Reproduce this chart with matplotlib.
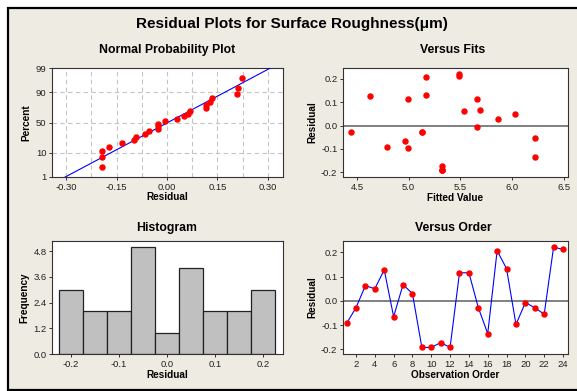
import numpy as np
import matplotlib
matplotlib.use("Agg")
import matplotlib.pyplot as plt
from matplotlib.patches import Rectangle
from statistics import NormalDist

# ---- data ----
residuals = [-0.093, -0.028, 0.063, 0.050, 0.128, -0.065, 0.067, 0.030,
             -0.192, -0.192, -0.172, -0.192, 0.116, 0.116, -0.028, -0.135,
             0.207, 0.133, -0.097, -0.007, -0.028, -0.055, 0.222, 0.212]
fitted = [4.79, 4.44, 5.53, 6.03, 4.63, 4.96, 5.69, 5.86,
          5.32, 5.32, 5.32, 5.32, 4.99, 5.66, 5.13, 6.22,
          5.17, 5.17, 4.99, 5.66, 5.13, 6.22, 5.49, 5.49]
order = list(range(1, 25))
hist_edges = [-0.225, -0.175, -0.125, -0.075, -0.025, 0.025, 0.075, 0.125, 0.175, 0.225]

npp_xticks = [-0.30, -0.15, 0.00, 0.15, 0.30]
npp_yticks = [1, 10, 50, 90, 99]
fit_xticks = [4.5, 5.0, 5.5, 6.0, 6.5]
res_ticks = [-0.2, -0.1, 0.0, 0.1, 0.2]
hist_xticks = [-0.2, -0.1, 0.0, 0.1, 0.2]
hist_yticks = [0.0, 1.2, 2.4, 3.6, 4.8]
order_xticks = list(range(2, 25, 2))

title = "Residual Plots for Surface Roughness(μm)"

# ---- style ----
plt.rcParams['font.family'] = ['Liberation Sans', 'DejaVu Sans']
BG = '#EEEBE2'
RED = '#FF0000'
BLUE = '#0000FF'
TICK_FS = 6.8
LAB_FS = 7.2
SUB_FS = 8.8

W, H = 577, 391
fig = plt.figure(figsize=(W / 100, H / 100), dpi=100, facecolor='white')
fig.patches.append(Rectangle((7.5 / W, 1.5 / H), (W + 10) / W, (H - 9) / H,
                             transform=fig.transFigure, facecolor=BG,
                             edgecolor='black', lw=1.6, zorder=-10))

fig.text(292 / W, 1 - 24 / H, title, ha='center', va='center',
         fontsize=11, fontweight='bold')


def make_ax(l, t, r, b):
    ax = fig.add_axes([l / W, 1 - b / H, (r - l) / W, (b - t) / H])
    ax.set_facecolor('white')
    for s in ax.spines.values():
        s.set_color('#333333')
        s.set_linewidth(0.8)
    ax.tick_params(direction='out', length=2.5, width=0.7, labelsize=TICK_FS,
                   pad=1.5, colors='#333333', labelcolor='#222222')
    return ax


def sub_title(x, y, s):
    fig.text(x / W, 1 - y / H, s, ha='center', va='center',
             fontsize=SUB_FS, fontweight='bold')


# ---- Normal probability plot ----
ax1 = make_ax(52, 68, 283, 177)
nd = NormalDist()
r = np.array(residuals)
n = len(r)
srt = np.sort(r)
pr = (np.arange(1, n + 1) - 0.3) / (n + 0.4)
zq = np.array([nd.inv_cdf(p) for p in pr])
mu, sd = r.mean(), r.std(ddof=1)
xl = np.array([-0.5, 0.5])
ax1.plot(xl, (xl - mu) / sd, color=BLUE, lw=0.8, zorder=3)
ax1.plot(srt, zq, 'o', color=RED, ms=3.6, mec=RED, zorder=4)
z = lambda p: nd.inv_cdf(p / 100)
ax1.set_ylim(z(1), z(99))
ax1.set_xlim(-0.342, 0.345)
ax1.set_yticks([z(p) for p in npp_yticks])
ax1.set_yticklabels([str(p) for p in npp_yticks])
ax1.set_xticks(npp_xticks)
ax1.set_xticklabels([f"{v:.2f}" for v in npp_xticks])
for gx in np.arange(-0.30, 0.301, 0.075):
    ax1.axvline(gx, color='#C4C4C4', lw=0.8, ls=(0, (4, 3)), zorder=1)
for gp in [10, 50, 90]:
    ax1.axhline(z(gp), color='#C4C4C4', lw=0.8, ls=(0, (4, 3)), zorder=1)
ax1.set_xlabel('Residual', fontsize=LAB_FS, fontweight='bold', labelpad=0)
ax1.set_ylabel('Percent', fontsize=LAB_FS, fontweight='bold', labelpad=3)
sub_title(167, 50, 'Normal Probability Plot')

# ---- Versus fits ----
ax2 = make_ax(343, 68, 568, 177)
ax2.axhline(0, color='#808080', lw=1.4, zorder=1)
ax2.plot(fitted, residuals, 'o', color=RED, ms=3.6, mec=RED, zorder=3)
ax2.set_xlim(4.365, 6.54)
ax2.set_ylim(-0.22, 0.247)
ax2.set_xticks(fit_xticks)
ax2.set_xticklabels([f"{v:.1f}" for v in fit_xticks])
ax2.set_yticks(res_ticks)
ax2.set_yticklabels([f"{v:.1f}" for v in res_ticks])
ax2.set_xlabel('Fitted Value', fontsize=LAB_FS, fontweight='bold', labelpad=1)
ax2.set_ylabel('Residual', fontsize=LAB_FS, fontweight='bold', labelpad=3)
sub_title(453, 50, 'Versus Fits')

# ---- Histogram ----
ax3 = make_ax(52, 241, 283, 354)
ax3.hist(residuals, bins=hist_edges, color='#C0C0C0', edgecolor='#222222', lw=0.9)
ax3.set_xlim(-0.24, 0.242)
ax3.set_ylim(0, 5.27)
ax3.set_xticks(hist_xticks)
ax3.set_xticklabels([f"{v:.1f}" for v in hist_xticks])
ax3.set_yticks(hist_yticks)
ax3.set_yticklabels([f"{v:.1f}" for v in hist_yticks])
ax3.set_xlabel('Residual', fontsize=LAB_FS, fontweight='bold', labelpad=1)
ax3.set_ylabel('Frequency', fontsize=LAB_FS, fontweight='bold', labelpad=3)
sub_title(167, 228, 'Histogram')

# ---- Versus order ----
ax4 = make_ax(343, 241, 568, 354)
ax4.axhline(0, color='#808080', lw=1.4, zorder=1)
ax4.plot(order, residuals, '-', color=BLUE, lw=0.8, zorder=2)
ax4.plot(order, residuals, 'o', color=RED, ms=3.6, mec=RED, zorder=3)
ax4.set_xlim(0.62, 24.53)
ax4.set_ylim(-0.219, 0.247)
ax4.set_xticks(order_xticks)
ax4.set_yticks(res_ticks)
ax4.set_yticklabels([f"{v:.1f}" for v in res_ticks])
ax4.set_xlabel('Observation Order', fontsize=LAB_FS, fontweight='bold', labelpad=1)
ax4.set_ylabel('Residual', fontsize=LAB_FS, fontweight='bold', labelpad=3)
sub_title(453, 228, 'Versus Order')

fig.savefig('out.png', dpi=100, facecolor='white')
